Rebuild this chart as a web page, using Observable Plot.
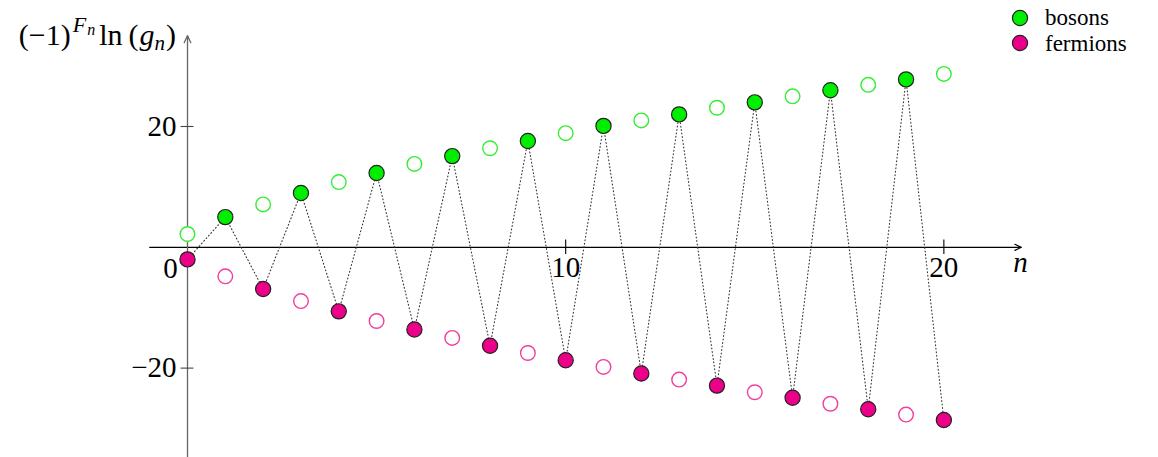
<!DOCTYPE html>
<html><head><meta charset="utf-8">
<script src="https://cdn.jsdelivr.net/npm/d3@7"></script>
<script src="https://cdn.jsdelivr.net/npm/@observablehq/plot@0.6"></script>
<style>
body{margin:0;background:#fff;}
#wrap{position:relative;width:1158px;height:457px;overflow:hidden;}
#legend{position:absolute;left:1010px;top:5px;font-family:'Liberation Serif',serif;font-size:23px;color:#000;}
.item{display:flex;align-items:center;height:25.6px;line-height:25.6px;}
.item svg{margin-right:15px;}
</style></head><body><div id="wrap"><div id="chart"></div><div id="legend"></div></div>
<script>
// Data
const n = [0,1,2,3,4,5,6,7,8,9,10,11,12,13,14,15,16,17,18,19,20];
const bosons = [2.2,5.0,7.1,9.0,10.8,12.3,13.8,15.1,16.4,17.6,18.9,20.1,21.0,22.0,23.1,24.0,25.0,26.0,26.9,27.8,28.7];
const fermions = [-2.0,-4.8,-6.9,-8.9,-10.6,-12.2,-13.6,-15.0,-16.3,-17.5,-18.7,-19.8,-20.9,-21.9,-22.9,-24.0,-24.9,-25.9,-26.8,-27.7,-28.6];
// which state is realised at each n: "F" fermion, "B" boson
const realised = ["F","B","F","B","F","B","F","B","F","B","F","B","F","B","F","B","F","B","F","B","F"];
const xTicks = [10,20];
const yTicks = [-20,20];
const seriesNames = ["bosons","fermions"];

const colors = {bosonFill:"#00ee00", bosonOpen:"#33ee33", fermionFill:"#ec0089", fermionOpen:"#f03f9c"};

const bos = n.map((d,i)=>({n:d, v:bosons[i], filled: realised[i]==="B"}));
const fer = n.map((d,i)=>({n:d, v:fermions[i], filled: realised[i]==="F"}));
const path = n.map((d,i)=>({n:d, v: realised[i]==="B" ? bosons[i] : fermions[i]}));

const font = "Liberation Serif";
const plot = Plot.plot({
  width: 1158, height: 457,
  marginLeft: 187, marginRight: 139, marginTop: 0, marginBottom: 0,
  style: {background: "white", overflow: "visible"},
  x: {domain: [0, 22], axis: null},
  y: {domain: [-34.8, 40.86], axis: null},
  marks: [
    Plot.arrow([{x1:-1, x2:22.05, y1:0, y2:0}], {x1:"x1", x2:"x2", y1:"y1", y2:"y2", stroke:"#000", strokeWidth:1.2, headLength:9, headAngle:50, bend:0}),
    Plot.arrow([{x1:0, x2:0, y1:-36, y2:35.05}], {x1:"x1", x2:"x2", y1:"y1", y2:"y2", stroke:"#666", strokeWidth:1.3, headLength:9, headAngle:50, bend:0}),
    Plot.ruleX(xTicks, {x: d=>d, y1: -1.2, y2: 1.2, stroke:"#000", strokeWidth:1.1}),
    Plot.ruleY(yTicks, {y: d=>d, x1: -0.17, x2: 0.17, stroke:"#444", strokeWidth:1.1}),
    Plot.text(xTicks, {x: d=>d, y: 0, dy: 20, text: d=>String(d), fontSize: 29, fontFamily: font, fill:"#000"}),
    Plot.text([0], {x: 0, y: 0, dx: -17, dy: 21, text: d=>String(d), fontSize: 29, fontFamily: font, fill:"#000"}),
    Plot.text(yTicks, {x: 0, y: d=>d, dx: -11, text: d=> d<0 ? "\u2212"+Math.abs(d) : String(d), textAnchor:"end", fontSize: 29, fontFamily: font, fill:"#000"}),
    Plot.text(["n"], {x: 22, y: 0, dy: 15, dx: 1, text: d=>d, fontSize: 29, fontFamily: font, fontStyle:"italic", fill:"#000"}),
    Plot.line(path, {x:"n", y:"v", stroke:"#333", strokeWidth:1.1, strokeDasharray:"0.9 2.6"}),
    Plot.dot(bos.filter(d=>!d.filled), {x:"n", y:"v", r:7.3, fill:"white", stroke: colors.bosonOpen, strokeWidth:1.4}),
    Plot.dot(fer.filter(d=>!d.filled), {x:"n", y:"v", r:7.3, fill:"white", stroke: colors.fermionOpen, strokeWidth:1.4}),
    Plot.dot(bos.filter(d=>d.filled), {x:"n", y:"v", r:7.6, fill: colors.bosonFill, stroke:"#222", strokeWidth:1.2}),
    Plot.dot(fer.filter(d=>d.filled), {x:"n", y:"v", r:7.6, fill: colors.fermionFill, stroke:"#222", strokeWidth:1.2})
  ]
});
document.getElementById("chart").appendChild(plot);

// y-axis label with super/subscripts, placed through the scales
const sx = plot.scale("x"), sy = plot.scale("y");
const lab = d3.select(plot).append("text")
  .attr("x", sx.apply(0) - 11).attr("y", sy.apply(35) + 10)
  .attr("text-anchor","end").attr("font-family", font).attr("font-size", 30)
  .style("white-space","pre").attr("fill","#000");
lab.append("tspan").text("(\u22121)");
lab.append("tspan").attr("font-style","italic").attr("font-size",22).attr("dy",-13).attr("dx",2).text("F");
lab.append("tspan").attr("font-style","italic").attr("font-size",16).attr("dy",3).attr("dx",1).text("n");
lab.append("tspan").attr("dy",10).attr("dx",4).text("ln");
lab.append("tspan").attr("dx",6).text("(");
lab.append("tspan").attr("font-style","italic").attr("dx",1).text("g");
lab.append("tspan").attr("font-style","italic").attr("font-size",21).attr("dy",5).text("n");
lab.append("tspan").attr("dy",-5).attr("dx",1).text(")");

// legend
const legend = d3.select("#legend");
[[seriesNames[0], colors.bosonFill],[seriesNames[1], colors.fermionFill]].forEach(([name,c])=>{
  const it = legend.append("div").attr("class","item");
  const s = it.append("svg").attr("width",20).attr("height",20);
  s.append("circle").attr("cx",10).attr("cy",10).attr("r",7.6).attr("fill",c).attr("stroke","#222").attr("stroke-width",1.2);
  it.append("span").text(name);
});
</script></body></html>
